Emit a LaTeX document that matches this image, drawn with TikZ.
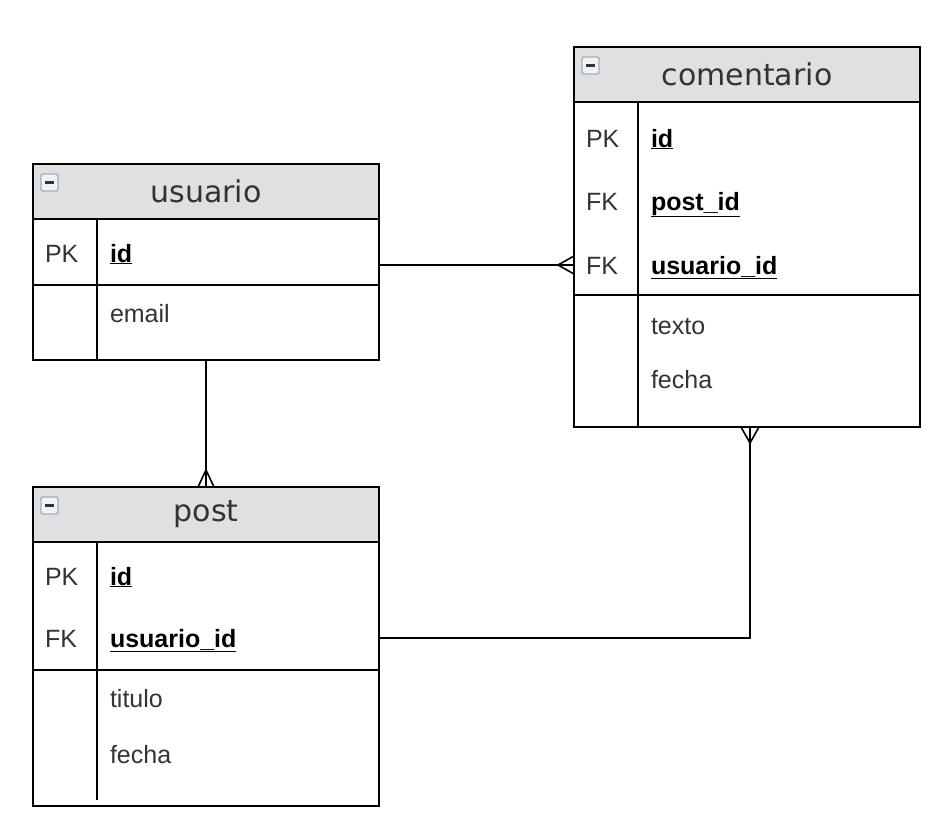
\documentclass[tikz,border=0pt]{standalone}
\usepackage{fontspec}
\setmainfont{Liberation Sans}
\newfontfamily\hdfont{DejaVu Sans}
\usetikzlibrary{positioning,calc}
\definecolor{hdgray}{HTML}{E0E0E0}
\definecolor{txtgray}{HTML}{333333}
\definecolor{icnblue}{HTML}{9AAFC4}

\begin{document}
\begin{tikzpicture}[x=1pt,y=-1pt,line width=2pt,
  every node/.style={inner sep=0pt,outer sep=0pt},
  tbl/.style={draw,anchor=north west,minimum width=346pt},
  hd/.style={draw,fill=hdgray,anchor=north west,minimum width=346pt,minimum height=55pt,
    font=\hdfont\fontsize{30}{35}\selectfont,text=txtgray},
  key/.style={anchor=west,text height=20pt,text depth=2pt,font=\fontsize{25}{29}\selectfont,text=txtgray},
  fld/.style={anchor=west,text height=20pt,text depth=2pt,font=\fontsize{25}{29}\selectfont,text=txtgray},
  pkf/.style={anchor=west,text height=20pt,text depth=2pt,font=\bfseries\fontsize{25}{29}\selectfont,text=black},
  many/.style={line width=1.6pt}]
\useasboundingbox (0,0) rectangle (949,824);

\newcommand{\minusicon}[1]{%
  \draw[line width=1.4pt,draw=icnblue,fill=white!85!icnblue,rounded corners=2pt] ($(#1.north west)+(8,10)$) rectangle ++(17,17);
  \draw[line width=3pt,draw=txtgray] ($(#1.north west)+(12,18.5)$) -- ++(9,0);}

%usuario
\node[tbl,minimum height=196pt] (usuario) at (33,164) {};
\node[hd] (usuario-h) at (33,164) {usuario};
\minusicon{usuario-h}
\draw (33,285) -- (379,285);
\draw (97,220) -- (97,360);
\node[key] (usuario-pk) at (45,253) {PK};
\node[pkf] (usuario-id) at (110,253) {\underline{id}};
\node[fld] (usuario-email) at (110,313) {email};

%comentario
\node[tbl,minimum height=380pt] (comentario) at (574,47) {};
\node[hd] (comentario-h) at (574,47) {comentario};
\minusicon{comentario-h}
\draw (574,295) -- (920,295);
\draw (638,102) -- (638,427);
\node[key] (comentario-pk) at (586,138) {PK};
\node[pkf] (comentario-id) at (651,138) {\underline{id}};
\node[key] (comentario-fk1) at (586,201) {FK};
\node[pkf] (comentario-postid) at (651,201) {\underline{post\_id}};
\node[key] (comentario-fk2) at (586,265) {FK};
\node[pkf] (comentario-usuarioid) at (651,265) {\underline{usuario\_id}};
\node[fld] (comentario-texto) at (651,325) {texto};
\node[fld] (comentario-fecha) at (651,379) {fecha};

%post
\node[tbl,minimum height=319pt] (post) at (33,487) {};
\node[hd] (post-h) at (33,487) {post};
\minusicon{post-h}
\draw (33,670) -- (379,670);
\draw (97,542) -- (97,800);
\node[key] (post-pk) at (45,576) {PK};
\node[pkf] (post-id) at (110,576) {\underline{id}};
\node[key] (post-fk) at (45,638) {FK};
\node[pkf] (post-usuarioid) at (110,638) {\underline{usuario\_id}};
\node[fld] (post-titulo) at (110,698) {titulo};
\node[fld] (post-fecha) at (110,754) {fecha};

%relations
\coordinate (c1) at (usuario.east |- comentario-usuarioid);
\coordinate (c2) at (comentario.west |- comentario-usuarioid);
\draw[many] (c1) -- (c2);
\draw[many] ($(c2)+(-16,0)$) -- ($(c2)+(0,-9)$) ($(c2)+(-16,0)$) -- ($(c2)+(0,9)$);

\coordinate (c3) at (usuario.south);
\coordinate (c4) at (post.north);
\draw[many] (c3) -- (c4);
\draw[many] ($(c4)+(0,-17)$) -- ($(c4)+(-8,0)$) ($(c4)+(0,-17)$) -- ($(c4)+(8,0)$);

\coordinate (c5) at (post.east |- post-usuarioid);
\coordinate (c6) at ($(comentario.south)+(3,0)$);
\draw[many] (c5) -| (c6);
\draw[many] ($(c6)+(0,16)$) -- ($(c6)+(-9,0)$) ($(c6)+(0,16)$) -- ($(c6)+(9,0)$);
\end{tikzpicture}
\end{document}
